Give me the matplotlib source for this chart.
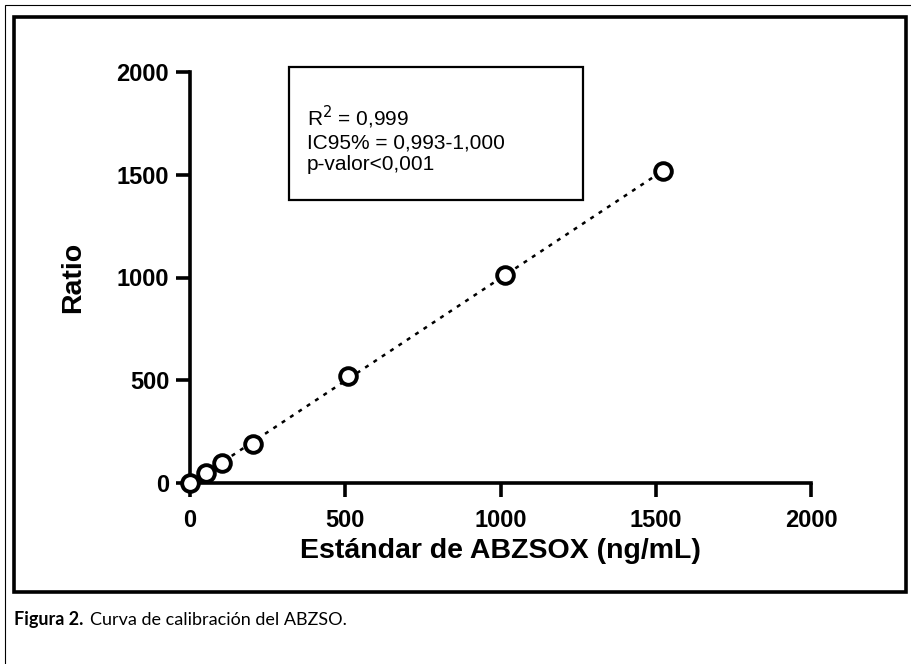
import numpy as np
import matplotlib
matplotlib.use('Agg')
import matplotlib.pyplot as plt
from matplotlib.patches import Rectangle

# Calibration data
estandar = [0, 50.8, 101.6, 203.2, 508, 1016, 1524]
ratio = [0, 47, 99, 189, 521, 1011, 1518]
ticks = [0, 500, 1000, 1500, 2000]
stats_text = "R$^2$ = 0,999\nIC95% = 0,993-1,000\np-valor<0,001"

W, H = 912, 664
fig = plt.figure(figsize=(W / 100, H / 100), dpi=100)
ax = fig.add_axes([190 / W, 1 - 483 / H, (811 - 190) / W, (483 - 72) / H])

# Linear fit, dotted line
m, b = np.polyfit(estandar, ratio, 1)
xf = np.array([min(estandar), max(estandar)])
ax.plot(xf, m * xf + b, color='black', lw=1.8, linestyle=(0, (1.6, 2.4)), zorder=2)

ax.plot(estandar, ratio, 'o', ms=12, mfc='white', mec='black', mew=2.8,
        clip_on=False, zorder=3)

ax.set_xlim(0, 2000)
ax.set_ylim(0, 2000)
ax.set_xticks(ticks)
ax.set_yticks(ticks)
for s in ['top', 'right']:
    ax.spines[s].set_visible(False)
for s in ['left', 'bottom']:
    ax.spines[s].set_linewidth(2.6)
ax.tick_params(length=10, width=2.6, labelsize=17)
ax.tick_params(axis='x', pad=9)
ax.tick_params(axis='y', pad=5)
for lab in ax.get_xticklabels() + ax.get_yticklabels():
    lab.set_fontweight('bold')
    lab.set_family('Liberation Sans')

ax.set_xlabel('Estándar de ABZSOX (ng/mL)', fontsize=20.5, fontweight='bold',
              family='Liberation Sans', labelpad=4)
ax.set_ylabel('Ratio', fontsize=20.5, fontweight='bold',
              family='Liberation Sans', labelpad=22)

# Statistics box
fig.patches.append(Rectangle((289 / W, 1 - 200 / H), (583 - 289) / W, (200 - 67) / H,
                             transform=fig.transFigure, fill=False, lw=1.6,
                             edgecolor='black'))
fig.text(307 / W, 1 - 139 / H, stats_text, fontsize=15, family='Liberation Sans',
         va='center', ha='left', linespacing=1.15)

# Frames
fig.patches.append(Rectangle((14 / W, 1 - 592 / H), (906 - 14) / W, (592 - 17) / H,
                             transform=fig.transFigure, fill=False, lw=2.6,
                             edgecolor='black'))
fig.patches.append(Rectangle((5 / W, -0.05), 1.0, 1 - 5 / H + 0.05,
                             transform=fig.transFigure, fill=False, lw=0.8,
                             edgecolor='black', clip_on=False))

# Caption
t1 = fig.text(14 / W, 1 - 620 / H, 'Figura 2.', fontsize=13, fontweight='bold',
              family='Lato', va='center')
fig.canvas.draw()
bb = t1.get_window_extent()
fig.text(bb.x1 / W + 7 / W, 1 - 620 / H, 'Curva de calibración del ABZSO.',
         fontsize=13, family='Lato', va='center')

fig.savefig('out.png', dpi=100)
